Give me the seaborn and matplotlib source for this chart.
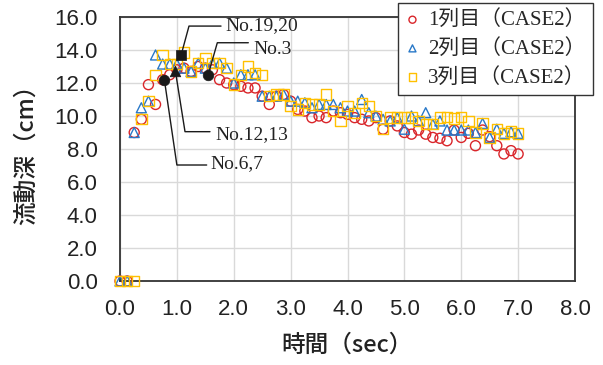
import numpy as np
import pandas as pd
import matplotlib
matplotlib.use("Agg")
import matplotlib.pyplot as plt
import seaborn as sns

# ---- data ----
time_step = 0.125
n_points = 57
times = [round(i * time_step, 3) for i in range(n_points)]

row1 = [0.0, 0.0, 9.0, 9.8, 11.9, 10.7, 12.2, 12.5, 12.8, 12.9,
        12.7, 13.0, 12.9, 12.8, 12.2, 12.0, 11.9, 11.8, 11.7, 11.7,
        11.2, 10.7, 11.2, 11.3, 10.9, 10.4, 10.3, 9.9, 10.0, 9.9,
        10.3, 10.2, 10.1, 9.9, 9.8, 9.7, 9.9, 9.2, 9.7, 9.4,
        9.0, 8.9, 9.15, 8.9, 8.7, 8.65, 8.5, 9.15, 8.7, 8.95,
        8.2, 9.15, 8.75, 8.2, 7.7, 7.9, 7.7]
row2 = [0.0, 0.0, 9.0, 10.5, 10.9, 13.7, 13.15, 13.15, 13.15, 12.9,
        12.7, 13.2, 12.9, 13.2, 13.2, 12.9, 12.0, 12.5, 12.5, 12.5,
        11.2, 11.2, 11.2, 11.3, 10.9, 10.9, 10.8, 10.5, 10.7, 10.7,
        10.7, 10.5, 10.3, 10.3, 11.0, 10.2, 10.0, 9.8, 9.7, 9.9,
        9.2, 10.0, 9.7, 10.2, 9.5, 9.7, 9.15, 9.15, 9.15, 9.15,
        9.0, 9.55, 8.7, 9.2, 8.95, 9.05, 8.95]
row3 = [0.0, 0.0, 0.0, 9.8, 10.9, 12.5, 13.7, 13.15, 13.15, 13.85,
        12.7, 13.2, 13.5, 13.2, 13.2, 12.9, 11.9, 12.5, 13.0, 12.6,
        12.5, 11.2, 11.3, 11.3, 10.6, 10.4, 10.8, 10.7, 10.7, 11.3,
        10.3, 9.7, 10.6, 10.2, 10.8, 10.6, 10.0, 9.2, 9.9, 9.9,
        9.9, 9.9, 9.7, 9.5, 9.5, 9.9, 9.95, 9.85, 9.95, 9.7,
        9.0, 9.55, 8.7, 9.2, 8.95, 9.05, 8.95]

series_labels = ["1列目（CASE2）", "2列目（CASE2）", "3列目（CASE2）"]
series_colors = ["#D9252A", "#2878C8", "#FFC000"]
series_markers = ["o", "^", "s"]

# highlighted samples
pick_labels = ["No.6,7", "No.12,13", "No.19,20", "No.3"]
pick_x = [0.78, 0.975, 1.075, 1.55]
pick_y = [12.2, 12.7, 13.7, 12.5]
pick_markers = ["o", "^", "s", "o"]
# leader line elbow / end points and text anchor (data units)
elbow_x = [1.0, 1.143, 1.213, 1.711]
elbow_y = [7.03, 9.05, 15.45, 14.44]
end_x = [1.524, 1.582, 1.776, 2.256]
text_x = [1.59, 1.67, 1.846, 2.34]
text_y = [7.1, 8.9, 15.45, 14.05]

x_ticks = [0.0, 1.0, 2.0, 3.0, 4.0, 5.0, 6.0, 7.0, 8.0]
y_ticks = [0.0, 2.0, 4.0, 6.0, 8.0, 10.0, 12.0, 14.0, 16.0]
x_label = "時間（sec）"
y_label = "流動深（cm）"

# ---- plot ----
sns.set_theme(style="white")
plt.rcParams["font.family"] = ["Liberation Sans", "Noto Sans CJK JP", "DejaVu Sans"]

fig = plt.figure(figsize=(6.03, 3.65), dpi=100)
ax = fig.add_axes([120 / 603, 1 - 281 / 365, 455 / 603, 264 / 365])

for vals, lab, col, mk in zip([row1, row2, row3], series_labels, series_colors, series_markers):
    df = pd.DataFrame({"t": times, "h": vals})
    sns.scatterplot(data=df, x="t", y="h", ax=ax, marker=mk, s=52 if mk != "s" else 56,
                    facecolor="none", edgecolor=col, color=col, linewidth=1.0,
                    label=lab, zorder=3, clip_on=False)

for i in range(len(pick_x)):
    sns.scatterplot(x=[pick_x[i]], y=[pick_y[i]], ax=ax, marker=pick_markers[i],
                    s=58, color="#1a1a1a", edgecolor="#1a1a1a", linewidth=0.5,
                    zorder=5, legend=False)
    ax.plot([pick_x[i], elbow_x[i], end_x[i]], [pick_y[i], elbow_y[i], elbow_y[i]],
            color="#1a1a1a", lw=1.0, zorder=4)
    ax.text(text_x[i], text_y[i], pick_labels[i], ha="left", va="center",
            fontsize=14, family=["Liberation Serif"], color="#222222")

ax.set_xlim(0, 8)
ax.set_ylim(0, 16)
ax.set_xticks(x_ticks)
ax.set_yticks(y_ticks)
ax.set_xticklabels([f"{v:.1f}" for v in x_ticks])
ax.set_yticklabels([f"{v:.1f}" for v in y_ticks])
ax.tick_params(axis="both", direction="in", length=7, width=1, color="#333333",
               labelsize=16, labelcolor="#222222")
ax.tick_params(axis="y", pad=16)
ax.tick_params(axis="x", pad=13)
ax.grid(True, color="#d9d9d9", lw=1.0)
ax.set_axisbelow(True)
for sp in ax.spines.values():
    sp.set_color("#333333")
    sp.set_linewidth(1.3)

ax.set_xlabel(x_label, fontsize=17, family=["Noto Sans CJK JP"], color="#222222",
              fontweight="medium")
ax.set_ylabel(y_label, fontsize=17, family=["Noto Sans CJK JP"], color="#222222",
              fontweight="medium")
ax.xaxis.set_label_coords(0.5, -0.2)
ax.yaxis.set_label_coords(-0.18, 0.5)

leg = ax.legend(loc="upper right", bbox_to_anchor=(593 / 603, 1 - 3 / 365),
                bbox_transform=fig.transFigure, frameon=True, fancybox=False,
                borderaxespad=0, handlelength=0.7, handletextpad=0.4,
                labelspacing=0.42, borderpad=0.35, markerscale=0.7,
                prop={"family": ["Liberation Serif", "Noto Sans CJK JP"], "size": 15})
leg.get_frame().set_edgecolor("#333333")
leg.get_frame().set_linewidth(1.0)
leg.get_frame().set_facecolor("white")
leg.get_frame().set_alpha(1)
leg.set_zorder(10)

fig.savefig("out.png", dpi=100)
